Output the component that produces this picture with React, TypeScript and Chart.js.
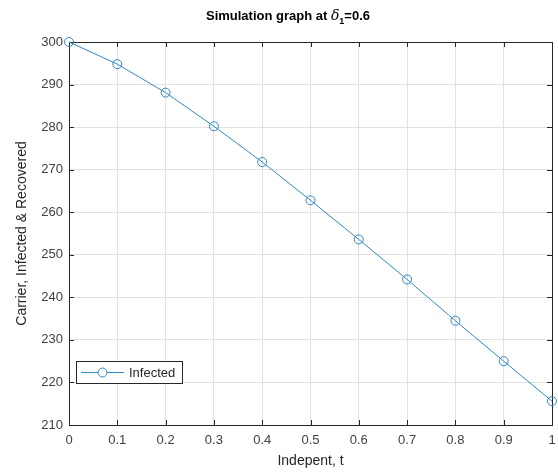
import React, { useEffect, useRef } from "react";
import { Chart, registerables } from "chart.js";

Chart.register(...registerables);

// ---- data ----
const tValues = [0, 0.1, 0.2, 0.3, 0.4, 0.5, 0.6, 0.7, 0.8, 0.9, 1.0];
const infectedValues = [300, 294.8, 288.1, 280.2, 271.8, 262.8, 253.6, 244.2, 234.5, 225.0, 215.6];
const seriesLabel = "Infected";
const xAxisTitle = "Indepent, t";
const yAxisTitle = "Carrier, Infected & Recovered";
const titleMain = "Simulation graph at ";
const titleSymbol = "δ";
const titleSub = "1";
const titleTail = "=0.6";

const FONT = "Arial, 'Liberation Sans', sans-serif";
const LINE_COLOR = "#3288c0";
const AXIS_COLOR = "#262626";
const TICK_COLOR = "#404040";
const GRID_COLOR = "#e2e2e2";

const matlabPlugin = {
  id: "matlabDecor",
  beforeDatasetsDraw(chart: any) {
    const { ctx, chartArea } = chart;
    const { left, right, top, bottom } = chartArea;
    const xs = chart.scales.x;
    const ys = chart.scales.y;
    const tl = 5;
    ctx.save();
    ctx.strokeStyle = AXIS_COLOR;
    ctx.lineWidth = 1;
    ctx.beginPath();
    xs.ticks.forEach((t: any) => {
      const px = Math.round(xs.getPixelForValue(t.value)) + 0.5;
      ctx.moveTo(px, bottom);
      ctx.lineTo(px, bottom - tl);
      ctx.moveTo(px, top);
      ctx.lineTo(px, top + tl);
    });
    ys.ticks.forEach((t: any) => {
      const py = Math.round(ys.getPixelForValue(t.value)) + 0.5;
      ctx.moveTo(left, py);
      ctx.lineTo(left + tl, py);
      ctx.moveTo(right, py);
      ctx.lineTo(right - tl, py);
    });
    ctx.stroke();
    ctx.strokeRect(Math.round(left) + 0.5, Math.round(top) + 0.5, Math.round(right - left), Math.round(bottom - top));
    ctx.restore();
  },
  afterDraw(chart: any) {
    const { ctx } = chart;
    ctx.save();
    // Title with mixed styles
    const fMain = `bold 13px ${FONT}`;
    const fSym = `italic 14px 'DejaVu Serif', 'Liberation Serif', serif`;
    const fSub = `bold 9px ${FONT}`;
    ctx.font = fMain;
    const w1 = ctx.measureText(titleMain).width;
    const w4 = ctx.measureText(titleTail).width;
    ctx.font = fSym;
    const w2 = ctx.measureText(titleSymbol).width;
    ctx.font = fSub;
    const w3 = ctx.measureText(titleSub).width;
    const total = w1 + w2 + w3 + w4;
    let x = 288 - total / 2;
    const y = 15.5;
    ctx.fillStyle = "#000000";
    ctx.textBaseline = "alphabetic";
    ctx.textAlign = "left";
    ctx.font = fMain;
    ctx.fillText(titleMain, x, y + 4.5);
    x += w1;
    ctx.font = fSym;
    ctx.fillText(titleSymbol, x, y + 4.5);
    x += w2;
    ctx.font = fSub;
    ctx.fillText(titleSub, x, y + 8);
    x += w3;
    ctx.font = fMain;
    ctx.fillText(titleTail, x, y + 4.5);

    // Legend box inside axes
    const bx = 76.5, by = 361.5, bw = 106, bh = 22;
    ctx.fillStyle = "#ffffff";
    ctx.fillRect(bx, by, bw, bh);
    ctx.strokeStyle = AXIS_COLOR;
    ctx.lineWidth = 1;
    ctx.strokeRect(bx, by, bw, bh);
    const ly = by + bh / 2;
    ctx.strokeStyle = LINE_COLOR;
    ctx.beginPath();
    ctx.moveTo(81, ly);
    ctx.lineTo(124, ly);
    ctx.stroke();
    ctx.beginPath();
    ctx.arc(102.5, ly, 4.5, 0, Math.PI * 2);
    ctx.fillStyle = "#ffffff";
    ctx.fill();
    ctx.stroke();
    ctx.fillStyle = AXIS_COLOR;
    ctx.font = `13px ${FONT}`;
    ctx.textBaseline = "middle";
    ctx.fillText(seriesLabel, 129, ly + 0.5);
    ctx.restore();
  },
};

export default function App() {
  const ref = useRef<HTMLCanvasElement | null>(null);

  useEffect(() => {
    if (!ref.current) return;
    const chart = new Chart(ref.current, {
      type: "line",
      data: {
        datasets: [
          {
            label: seriesLabel,
            data: tValues.map((t, i) => ({ x: t, y: infectedValues[i] })),
            borderColor: LINE_COLOR,
            borderWidth: 1,
            backgroundColor: "rgba(0,0,0,0)",
            pointStyle: "circle",
            pointRadius: 4.5,
            pointBorderWidth: 1,
            pointBorderColor: LINE_COLOR,
            pointBackgroundColor: "rgba(0,0,0,0)",
            tension: 0,
            fill: false,
            clip: false as any,
          },
        ],
      },
      options: {
        animation: false,
        responsive: false,
        maintainAspectRatio: false,
        layout: { padding: { left: 0, right: 0, top: 42, bottom: 0 } },
        plugins: {
          legend: { display: false },
          title: { display: false },
          tooltip: { enabled: false },
        },
        scales: {
          x: {
            type: "linear",
            min: 0,
            max: 1,
            ticks: {
              stepSize: 0.1,
              color: TICK_COLOR,
              font: { family: FONT, size: 13 },
              padding: 8,
              maxRotation: 0,
              callback: (v: any) => String(Number(Number(v).toFixed(1))),
            },
            grid: { color: GRID_COLOR, drawTicks: false, lineWidth: 1 },
            border: { display: false },
            title: {
              display: true,
              text: xAxisTitle,
              color: AXIS_COLOR,
              font: { family: FONT, size: 14 },
              padding: { top: 0, bottom: 2 },
            },
            afterFit: (s: any) => {
              s.height = 47;
              s.paddingRight = 6;
            },
          },
          y: {
            type: "linear",
            min: 210,
            max: 300,
            ticks: {
              stepSize: 10,
              color: TICK_COLOR,
              font: { family: FONT, size: 13 },
              padding: 6,
            },
            grid: { color: GRID_COLOR, drawTicks: false, lineWidth: 1 },
            border: { display: false },
            title: {
              display: true,
              text: yAxisTitle,
              color: AXIS_COLOR,
              font: { family: FONT, size: 14 },
              padding: { top: 14, bottom: 0 },
            },
            afterFit: (s: any) => {
              s.width = 69;
            },
          },
        },
      },
      plugins: [matlabPlugin],
    });
    return () => chart.destroy();
  }, []);

  return (
    <div style={{ position: "absolute", left: 0, top: 0, width: 558, height: 472, background: "#ffffff" }}>
      <canvas ref={ref} width={558} height={472} style={{ display: "block" }} />
    </div>
  );
}
